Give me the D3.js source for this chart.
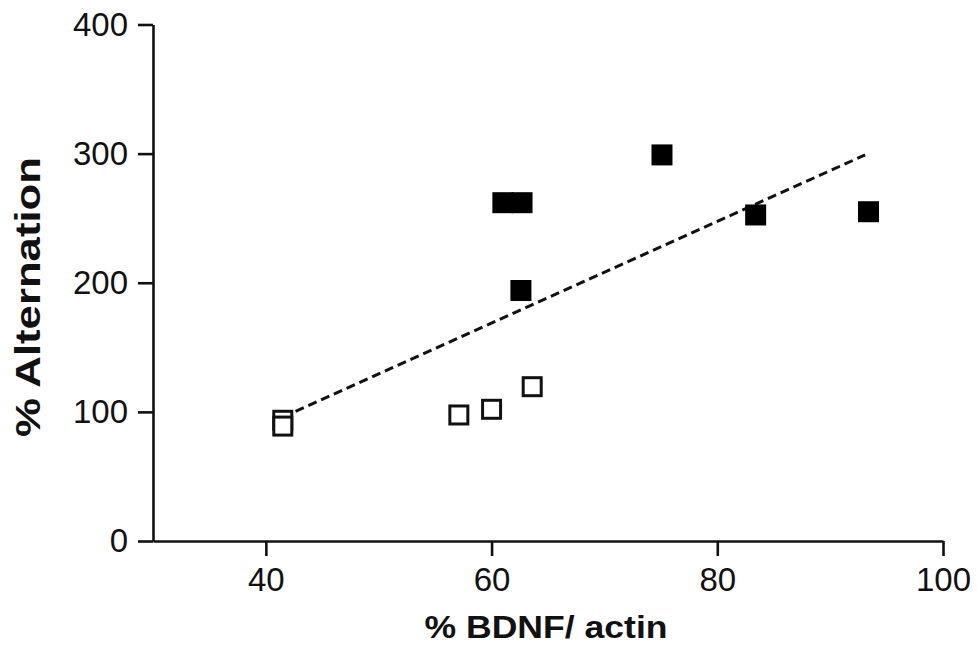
<!DOCTYPE html>
<html>
<head>
<meta charset="utf-8">
<script src="https://cdn.jsdelivr.net/npm/d3@7"></script>
<style>
  body { margin: 0; background: #fff; }
  text { font-family: "Liberation Sans", Arial, sans-serif; fill: #111; }
</style>
</head>
<body>
<div class="container"></div>
<script>
// values
var xTicks = [40, 60, 80, 100];
var yTicks = [0, 100, 200, 300, 400];

var openX = [41.5, 41.5, 57.1, 60.0, 63.6];
var openY = [93.5, 89, 97.6, 102, 119.5];

var filledX = [61.0, 62.7, 62.6, 75.1, 83.4, 93.4];
var filledY = [262, 262, 194, 299, 252.5, 255];

// dashed fit line end points
var fitX = [41.5, 93.1];
var fitY = [96, 299];

var xTitle = "% BDNF/ actin";
var yTitle = "% Alternation";

var W = 977, H = 652;

var svg = d3.select(".container")
  .append("svg")
    .attr("width", W)
    .attr("height", H);

var x = d3.scaleLinear().domain([30, 100]).range([153, 943]);
var y = d3.scaleLinear().domain([0, 400]).range([541, 24.5]);

// axes
var xAxis = svg.append("g")
  .attr("transform", "translate(0,541)")
  .call(d3.axisBottom(x).tickValues(xTicks).tickSize(15).tickSizeOuter(0).tickPadding(12));

var yAxis = svg.append("g")
  .attr("transform", "translate(153,0)")
  .call(d3.axisLeft(y).tickValues(yTicks).tickSize(15).tickSizeOuter(0).tickPadding(10));

[xAxis, yAxis].forEach(function(g) {
  g.selectAll("path, line").attr("stroke", "#111").attr("stroke-width", 2.6);
  g.selectAll("text")
    .style("font-family", "'Liberation Sans', Arial, sans-serif")
    .style("font-size", "33px")
    .attr("fill", "#111");
});

// axis titles
svg.append("text")
  .attr("x", 546)
  .attr("y", 638)
  .attr("text-anchor", "middle")
  .attr("textLength", 243)
  .attr("lengthAdjust", "spacingAndGlyphs")
  .style("font-size", "32px")
  .style("font-weight", "bold")
  .text(xTitle);

svg.append("text")
  .attr("transform", "translate(40,297) rotate(-90)")
  .attr("text-anchor", "middle")
  .attr("textLength", 280)
  .attr("lengthAdjust", "spacingAndGlyphs")
  .style("font-size", "35px")
  .style("font-weight", "bold")
  .text(yTitle);

// dashed fit line
var fit = fitX.map(function(d, i) { return [d, fitY[i]]; });
svg.append("path")
  .datum(fit)
  .attr("d", d3.line().x(function(d) { return x(d[0]); }).y(function(d) { return y(d[1]); }))
  .attr("fill", "none")
  .attr("stroke", "#111")
  .attr("stroke-width", 3)
  .attr("stroke-dasharray", "9,5");

// markers
var s = 21;
var openPts = openX.map(function(d, i) { return {x: d, y: openY[i]}; });
var filledPts = filledX.map(function(d, i) { return {x: d, y: filledY[i]}; });

svg.append("g")
  .selectAll("rect")
  .data(openPts)
  .enter()
  .append("rect")
    .attr("x", function(d) { return x(d.x) - (s - 3) / 2; })
    .attr("y", function(d) { return y(d.y) - (s - 3) / 2; })
    .attr("width", s - 3)
    .attr("height", s - 3)
    .attr("fill", "#fff")
    .attr("stroke", "#111")
    .attr("stroke-width", 3);

svg.append("g")
  .selectAll("rect")
  .data(filledPts)
  .enter()
  .append("rect")
    .attr("x", function(d) { return x(d.x) - s / 2; })
    .attr("y", function(d) { return y(d.y) - s / 2; })
    .attr("width", s)
    .attr("height", s)
    .attr("fill", "#000");
</script>
</body>
</html>
